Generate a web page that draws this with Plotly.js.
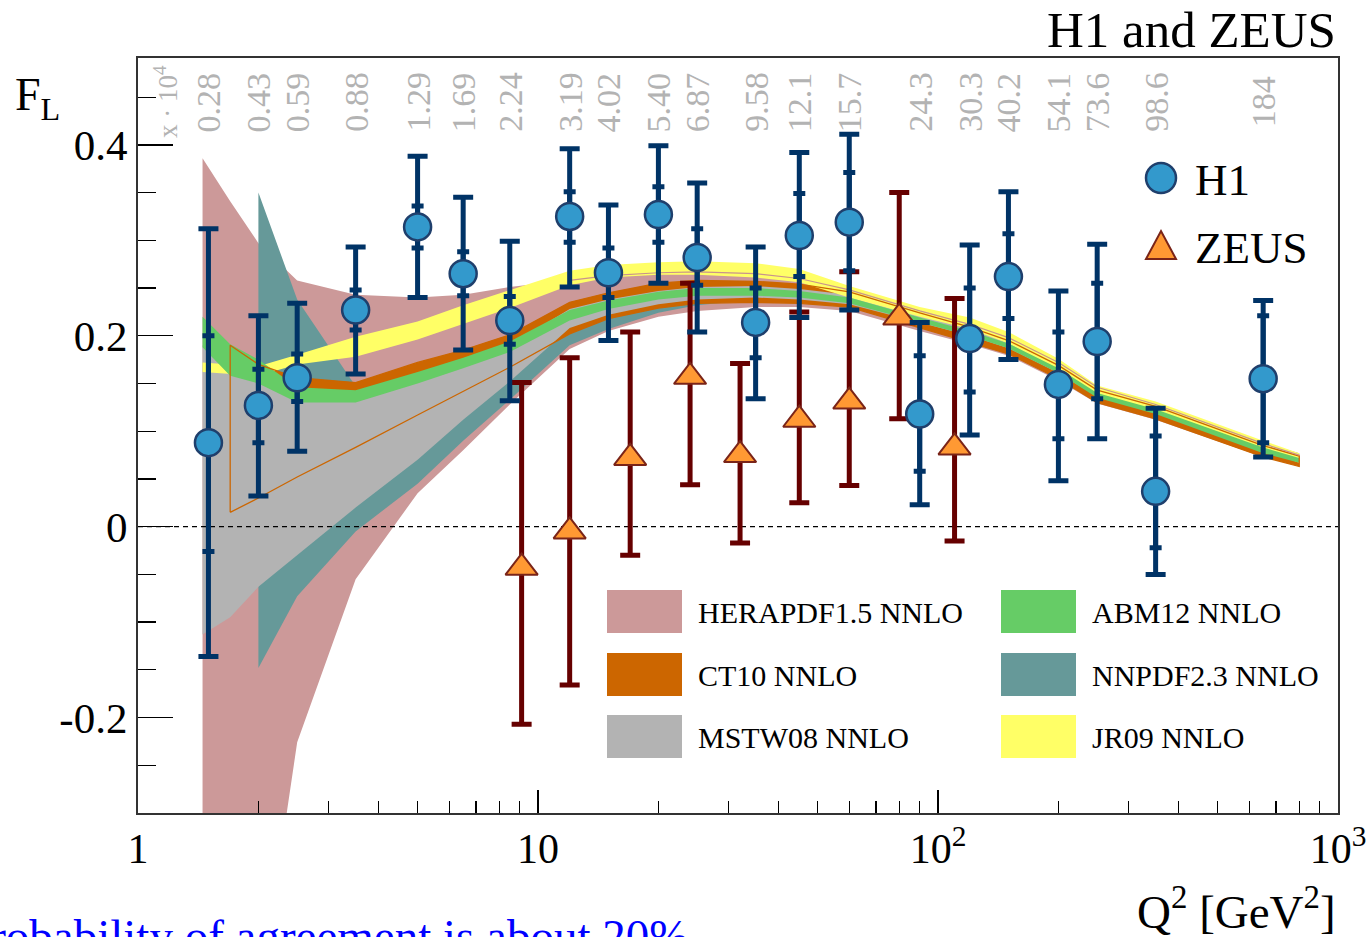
<!DOCTYPE html>
<html>
<head>
<meta charset="utf-8">
<script src="https://cdn.plot.ly/plotly-3.0.1.min.js"></script>
<style>
  html, body { margin: 0; padding: 0; background: #ffffff; overflow: hidden; }
  #chart { width: 1368px; height: 937px; }
</style>
</head>
<body>
<div id="chart"></div>
<script>
// ---------------- data ----------------
// H1 measurements
const H1_Q2      = [1.5, 2, 2.5, 3.5, 5, 6.5, 8.5, 12, 15, 20, 25, 35, 45, 60, 90, 120, 150, 200, 250, 350, 650];
const H1_FL      = [0.088, 0.127, 0.156, 0.227, 0.314, 0.265, 0.216, 0.325, 0.266, 0.327, 0.282, 0.214, 0.305, 0.319, 0.118, 0.197, 0.262, 0.149, 0.194, 0.037, 0.155];
const H1_TOT_HI  = [0.312, 0.221, 0.234, 0.293, 0.388, 0.345, 0.299, 0.396, 0.337, 0.399, 0.360, 0.293, 0.392, 0.411, 0.214, 0.295, 0.351, 0.247, 0.296, 0.124, 0.237];
const H1_TOT_LO  = [-0.136, 0.032, 0.079, 0.160, 0.240, 0.185, 0.132, 0.251, 0.195, 0.255, 0.204, 0.134, 0.219, 0.227, 0.023, 0.096, 0.175, 0.048, 0.092, -0.050, 0.073];
const H1_STAT_HI = [0.200, 0.165, 0.181, 0.248, 0.336, 0.288, 0.241, 0.351, 0.292, 0.356, 0.312, 0.250, 0.349, 0.371, 0.179, 0.250, 0.307, 0.204, 0.255, 0.095, 0.221];
const H1_STAT_LO = [-0.026, 0.088, 0.131, 0.206, 0.292, 0.242, 0.191, 0.298, 0.240, 0.298, 0.253, 0.177, 0.262, 0.268, 0.058, 0.141, 0.218, 0.092, 0.134, -0.022, 0.088];
// x * 10^4 labels shown above each H1 point
const X_LABELS   = ["0.28", "0.43", "0.59", "0.88", "1.29", "1.69", "2.24", "3.19", "4.02", "5.40", "6.87", "9.58", "12.1", "15.7", "24.3", "30.3", "40.2", "54.1", "73.6", "98.6", "184"];

// ZEUS measurements
const ZEUS_Q2  = [9.1, 12, 17, 24, 32, 45, 60, 80, 110];
const ZEUS_FL  = [-0.043, -0.005, 0.072, 0.157, 0.075, 0.112, 0.131, 0.219, 0.083];
const ZEUS_HI  = [0.151, 0.177, 0.204, 0.255, 0.171, 0.225, 0.267, 0.350, 0.239];
const ZEUS_LO  = [-0.207, -0.166, -0.030, 0.044, -0.017, 0.025, 0.043, 0.113, -0.015];

// Prediction bands (Q2 nodes)
const Q_NODES = [1.45, 1.7, 2, 2.5, 3.5, 5, 6.5, 8.5, 12, 15, 20, 25, 35, 45, 60, 90, 120, 150, 200, 250, 350, 650, 800];

const HERA_HI = [0.386, 0.341, 0.297, 0.258, 0.243, 0.240, 0.243, 0.251, 0.258, 0.263, 0.266, 0.267, 0.265, 0.260, 0.248, 0.226, 0.212, 0.198, 0.172, 0.146, 0.128, 0.087, 0.075];
const HERA_LO = [-0.60, -0.57, -0.50, -0.226, -0.055, 0.035, 0.080, 0.128, 0.186, 0.205, 0.220, 0.226, 0.230, 0.230, 0.226, 0.205, 0.191, 0.179, 0.153, 0.129, 0.112, 0.073, 0.064];

const NNPDF_Q  = [2, 2.5, 3.5, 5, 6.5, 8.5, 12, 15, 20, 25, 35, 45, 60, 90, 120, 150, 200, 250, 350, 650, 800];
const NNPDF_HI = [0.350, 0.238, 0.147, 0.155, 0.170, 0.190, 0.225, 0.238, 0.250, 0.254, 0.254, 0.250, 0.243, 0.224, 0.210, 0.197, 0.171, 0.145, 0.128, 0.088, 0.077];
const NNPDF_LO = [-0.148, -0.073, -0.005, 0.045, 0.090, 0.133, 0.190, 0.207, 0.224, 0.232, 0.238, 0.236, 0.230, 0.212, 0.198, 0.185, 0.160, 0.134, 0.118, 0.078, 0.068];

const CT10_Q  = [1.7, 2, 2.5, 3.5, 5, 6.5, 8.5, 12, 15, 20, 25, 35, 45, 60, 90, 120, 150, 200, 250, 350, 650, 800];
const CT10_HI = [0.190, 0.170, 0.156, 0.151, 0.172, 0.185, 0.201, 0.235, 0.245, 0.255, 0.258, 0.257, 0.254, 0.246, 0.224, 0.209, 0.195, 0.169, 0.143, 0.126, 0.085, 0.074];
const CT10_LO = [0.015, 0.030, 0.052, 0.083, 0.117, 0.142, 0.167, 0.202, 0.218, 0.229, 0.234, 0.235, 0.234, 0.230, 0.208, 0.193, 0.181, 0.155, 0.130, 0.113, 0.073, 0.063];

const MSTW_HI = [0.190, 0.178, 0.165, 0.135, 0.135, 0.152, 0.170, 0.190, 0.228, 0.238, 0.247, 0.251, 0.252, 0.249, 0.243, 0.222, 0.208, 0.195, 0.169, 0.144, 0.127, 0.087, 0.076];
const MSTW_LO = [-0.113, -0.095, -0.063, -0.030, 0.020, 0.070, 0.112, 0.152, 0.208, 0.222, 0.233, 0.238, 0.240, 0.238, 0.233, 0.214, 0.200, 0.187, 0.161, 0.136, 0.120, 0.079, 0.069];

const JR09_HI = [0.172, 0.170, 0.168, 0.180, 0.199, 0.215, 0.232, 0.248, 0.268, 0.274, 0.277, 0.278, 0.276, 0.270, 0.252, 0.230, 0.219, 0.204, 0.176, 0.148, 0.131, 0.090, 0.077];
const JR09_LO = [0.162, 0.160, 0.158, 0.170, 0.178, 0.196, 0.212, 0.229, 0.253, 0.261, 0.264, 0.264, 0.261, 0.256, 0.240, 0.220, 0.207, 0.192, 0.164, 0.137, 0.120, 0.080, 0.067];

const ABM_HI = [0.220, 0.191, 0.175, 0.146, 0.143, 0.162, 0.177, 0.194, 0.227, 0.237, 0.246, 0.250, 0.250, 0.247, 0.240, 0.219, 0.205, 0.192, 0.166, 0.140, 0.123, 0.083, 0.072];
const ABM_LO = [0.188, 0.158, 0.150, 0.130, 0.130, 0.150, 0.166, 0.183, 0.216, 0.228, 0.238, 0.242, 0.242, 0.240, 0.234, 0.214, 0.200, 0.187, 0.161, 0.135, 0.118, 0.077, 0.067];

const LEGEND_NAMES  = ["HERAPDF1.5 NNLO", "ABM12 NNLO", "CT10 NNLO", "NNPDF2.3 NNLO", "MSTW08 NNLO", "JR09 NNLO"];

// ---------------- styling ----------------
const C_HERA = "#cc9999", C_CT10 = "#cc6600", C_MSTW = "#b3b3b3",
      C_ABM = "#66cc66", C_NNPDF = "#669999", C_JR09 = "#ffff66";
const LEGEND_COLORS = [C_HERA, C_ABM, C_CT10, C_NNPDF, C_MSTW, C_JR09];
const SERIF = "Liberation Serif, Times New Roman, serif";

// plot area in pixels
const PL = 138, PR = 1338, PT = 58, PB = 813;
const px2paperX = px => (px - PL) / (PR - PL);
const py2paperY = py => (PB - py) / (PB - PT);

function band(q, lo, hi, color) {
  return {
    x: q.concat(q.slice().reverse()),
    y: lo.concat(hi.slice().reverse()),
    mode: "lines", fill: "toself", fillcolor: color,
    line: { width: 0, color: color }, hoverinfo: "skip", showlegend: false
  };
}
function outline(q, lo, hi, color, w) {
  const xs = q.concat(q.slice().reverse()); xs.push(q[0]);
  const ys = lo.concat(hi.slice().reverse()); ys.push(lo[0]);
  return { x: xs, y: ys, mode: "lines", line: { color: color, width: w }, hoverinfo: "skip", showlegend: false };
}

const traces = [];
traces.push(band(Q_NODES, HERA_LO, HERA_HI, C_HERA));
traces.push(band(NNPDF_Q, NNPDF_LO, NNPDF_HI, C_NNPDF));
traces.push(band(CT10_Q, CT10_LO, CT10_HI, C_CT10));
traces.push(band(Q_NODES, MSTW_LO, MSTW_HI, C_MSTW));
traces.push(band(Q_NODES, JR09_LO, JR09_HI, C_JR09));
traces.push(band(Q_NODES, ABM_LO, ABM_HI, C_ABM));
traces.push(outline(CT10_Q, CT10_LO, CT10_HI, C_CT10, 1.3));
// HERAPDF upper edge line at higher Q2
traces.push({ x: Q_NODES.slice(8), y: HERA_HI.slice(8), mode: "lines",
  line: { color: "#c9948c", width: 1.2 }, hoverinfo: "skip", showlegend: false });

// zero reference line
const X_AXIS_MIN = 1, X_AXIS_MAX = 1000;
traces.push({ x: [X_AXIS_MIN, X_AXIS_MAX], y: [0, 0], mode: "lines",
  line: { color: "#000000", width: 1.3, dash: "5px,4px" }, hoverinfo: "skip", showlegend: false });

// ZEUS
traces.push({
  x: ZEUS_Q2, y: ZEUS_FL, mode: "markers", showlegend: false,
  error_y: { type: "data", symmetric: false,
    array: ZEUS_HI.map((v, i) => v - ZEUS_FL[i]),
    arrayminus: ZEUS_FL.map((v, i) => v - ZEUS_LO[i]),
    color: "#660000", thickness: 5, width: 10 },
  marker: { symbol: "triangle-up", size: 28, color: "#ff9933", line: { color: "#7a2418", width: 2 } }
});
// H1 stat ticks
traces.push({
  x: H1_Q2, y: H1_FL, mode: "markers", showlegend: false,
  marker: { size: 1, color: "rgba(0,0,0,0)" },
  error_y: { type: "data", symmetric: false,
    array: H1_STAT_HI.map((v, i) => v - H1_FL[i]),
    arrayminus: H1_FL.map((v, i) => v - H1_STAT_LO[i]),
    color: "#003366", thickness: 5, width: 6 }
});
// H1 total
traces.push({
  x: H1_Q2, y: H1_FL, mode: "markers", showlegend: false,
  error_y: { type: "data", symmetric: false,
    array: H1_TOT_HI.map((v, i) => v - H1_FL[i]),
    arrayminus: H1_FL.map((v, i) => v - H1_TOT_LO[i]),
    color: "#003366", thickness: 5, width: 10 },
  marker: { symbol: "circle", size: 27, color: "#3399cc", line: { color: "#1f3f6c", width: 2.5 } }
});

// ---------------- annotations ----------------
const annotations = [];
H1_Q2.forEach((q, i) => {
  annotations.push({ x: Math.log10(q), xref: "x", y: py2paperY(102), yref: "paper",
    text: X_LABELS[i], showarrow: false, textangle: -90,
    font: { family: SERIF, size: 34, color: "#b3b3b3" }, xanchor: "center", yanchor: "middle" });
});
annotations.push({ x: px2paperX(166), xref: "paper", y: py2paperY(102), yref: "paper",
  text: "x · 10<sup>4</sup>", showarrow: false, textangle: -90,
  font: { family: SERIF, size: 27, color: "#b3b3b3" }, xanchor: "center", yanchor: "middle" });

annotations.push({ x: 1.0, xref: "paper", y: py2paperY(0), yref: "paper",
  text: "H1 and ZEUS", showarrow: false, xanchor: "right", yanchor: "top",
  font: { family: SERIF, size: 51, color: "#000000" } });
annotations.push({ x: px2paperX(13), xref: "paper", y: py2paperY(98), yref: "paper",
  text: "F<sub>L</sub>", showarrow: false, xanchor: "left", yanchor: "middle",
  font: { family: SERIF, size: 46, color: "#000000" } });
annotations.push({ x: 1.0, xref: "paper", y: py2paperY(908), yref: "paper",
  text: "Q<sup>2</sup> [GeV<sup>2</sup>]", showarrow: false, xanchor: "right", yanchor: "middle",
  font: { family: SERIF, size: 47, color: "#000000" } });
annotations.push({ x: px2paperX(690), xref: "paper", y: py2paperY(908), yref: "paper",
  text: "Probability of agreement is about 20%", showarrow: false, xanchor: "right", yanchor: "top",
  font: { family: SERIF, size: 47, color: "#0000ff" } });

// legend: H1 / ZEUS
const shapes = [];
shapes.push({ type: "circle", xref: "paper", yref: "paper",
  x0: px2paperX(1146), x1: px2paperX(1176), y0: py2paperY(193), y1: py2paperY(163),
  fillcolor: "#3399cc", line: { color: "#1f3f6c", width: 2.5 } });
shapes.push({ type: "path", xref: "paper", yref: "paper",
  path: "M " + px2paperX(1146) + " " + py2paperY(259) + " L " + px2paperX(1176) + " " + py2paperY(259) +
        " L " + px2paperX(1161) + " " + py2paperY(231) + " Z",
  fillcolor: "#ff9933", line: { color: "#7a2418", width: 2 } });
annotations.push({ x: px2paperX(1193), xref: "paper", y: py2paperY(180), yref: "paper",
  text: "H1", showarrow: false, xanchor: "left", yanchor: "middle",
  font: { family: SERIF, size: 45, color: "#000000" } });
annotations.push({ x: px2paperX(1193), xref: "paper", y: py2paperY(248), yref: "paper",
  text: "ZEUS", showarrow: false, xanchor: "left", yanchor: "middle",
  font: { family: SERIF, size: 45, color: "#000000" } });

// legend: bands (2 columns x 3 rows)
const colX = [607, 1001], rowY = [590, 653, 715];
LEGEND_NAMES.forEach((name, i) => {
  const c = i % 2, r = Math.floor(i / 2);
  shapes.push({ type: "rect", xref: "paper", yref: "paper",
    x0: px2paperX(colX[c]), x1: px2paperX(colX[c] + 75),
    y0: py2paperY(rowY[r] + 43), y1: py2paperY(rowY[r]),
    fillcolor: LEGEND_COLORS[i], line: { width: 0 } });
  annotations.push({ x: px2paperX(colX[c] + 89), xref: "paper", y: py2paperY(rowY[r] + 22), yref: "paper",
    text: name, showarrow: false, xanchor: "left", yanchor: "middle",
    font: { family: SERIF, size: 30, color: "#000000" } });
});

const layout = {
  width: 1368, height: 937,
  margin: { l: PL, r: 1368 - PR, t: PT, b: 937 - PB, pad: 0 },
  paper_bgcolor: "#ffffff", plot_bgcolor: "#ffffff",
  showlegend: false,
  xaxis: {
    type: "log", range: [0, 3],
    tickmode: "array", tickvals: [1, 10, 100, 1000], ticktext: ["1", "10", "10<sup>2</sup>", "10<sup>3</sup>"],
    ticks: "inside", ticklen: 23, tickwidth: 1.3, tickcolor: "#000000",
    minor: { tickmode: "array",
      tickvals: [2,3,4,5,6,7,8,9,20,30,40,50,60,70,80,90,200,300,400,500,600,700,800,900],
      ticks: "inside", ticklen: 12, tickwidth: 1.2, tickcolor: "#000000", showgrid: false },
    showline: true, linecolor: "#333333", linewidth: 2, mirror: true,
    showgrid: false, zeroline: false,
    tickfont: { family: SERIF, size: 42, color: "#000000" },
    ticklabelstandoff: -2
  },
  yaxis: {
    range: [-0.3, 0.491],
    tickmode: "array", tickvals: [-0.2, 0, 0.2, 0.4], ticktext: ["-0.2", "0", "0.2", "0.4"],
    ticks: "inside", ticklen: 35, tickwidth: 1.3, tickcolor: "#000000",
    minor: { dtick: 0.05, ticks: "inside", ticklen: 18, tickwidth: 1.2, tickcolor: "#000000", showgrid: false },
    showline: true, linecolor: "#333333", linewidth: 2, mirror: true,
    showgrid: false, zeroline: false,
    tickfont: { family: SERIF, size: 43, color: "#000000" },
    ticklabelstandoff: 0
  },
  annotations: annotations,
  shapes: shapes
};

Plotly.newPlot("chart", traces, layout, { displayModeBar: false, staticPlot: true });
</script>
</body>
</html>
